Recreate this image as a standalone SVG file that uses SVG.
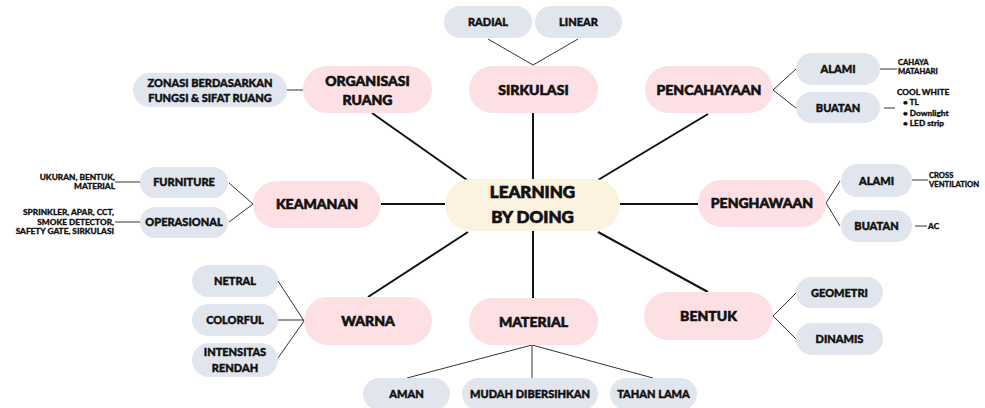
<svg xmlns="http://www.w3.org/2000/svg" width="985" height="408" viewBox="0 0 985 408">
<style>
text{font-family:"Lato","Liberation Sans",sans-serif;font-weight:900;fill:#111;stroke:#111;stroke-width:0.45;text-anchor:middle}
.main{fill:#FCE0E4}
.sub{fill:#E1E6EE}
.core{fill:#FBF2DF}
.t1{font-size:14px;stroke-width:0.6}
.t0{font-size:17px;stroke-width:0.7}
.t2{font-size:11px}
.t3{font-size:8.3px;stroke-width:0.3}
.t4{font-size:7.6px;stroke-width:0.3}
.tl{text-anchor:start}
.tr{text-anchor:end}
.m{stroke:#111;stroke-width:2;fill:none}
.b{stroke:#333;stroke-width:1;fill:none}
</style>
<g id="connectors">
<path class="m" d="M533 112V179M467 180L372 113M598 180L708 114M620 204H698M445 204H381M468 232L368 297M533 231V298M598 232L708 292"/>
<path class="b" d="M488 39L533 65L578 39M287 90H303M796 69L773 90L796 108M880 69H897M884 108H895M840 181L826 203L840 226M912 180H928M915 226H927M229 183L253 204L229 222M115 182H140M115 222H140M278 281L304 321L278 358M278 320H304M407 378L532 345L653 378M532 345V378M796 293L773 316L796 339"/>
</g>
<g id="center"><rect class="core" x="445" y="179" width="175" height="52" rx="26"/><text class="t0" x="532.5" y="198">LEARNING</text><text class="t0" x="532.5" y="223">BY DOING</text></g>
<g id="sirkulasi"><rect class="main" x="469" y="66" width="129" height="47" rx="23.5"/><text class="t1" x="533.5" y="94.5">SIRKULASI</text></g>
<g id="organisasi"><rect class="main" x="303" y="66" width="129" height="47" rx="23.5"/><text class="t1" x="367.5" y="86">ORGANISASI</text><text class="t1" x="367.5" y="105">RUANG</text></g>
<g id="pencahayaan"><rect class="main" x="645" y="66" width="128" height="47" rx="23.5"/><text class="t1" x="709" y="94.5">PENCAHAYAAN</text></g>
<g id="keamanan"><rect class="main" x="253" y="181" width="128" height="47" rx="23.5"/><text class="t1" x="317" y="209">KEAMANAN</text></g>
<g id="penghawaan"><rect class="main" x="698" y="180" width="128" height="47" rx="23.5"/><text class="t1" x="762" y="208">PENGHAWAAN</text></g>
<g id="warna"><rect class="main" x="304" y="297" width="128" height="48" rx="24"/><text class="t1" x="368" y="326">WARNA</text></g>
<g id="material"><rect class="main" x="469" y="298" width="129" height="47" rx="23.5"/><text class="t1" x="533.5" y="326.5">MATERIAL</text></g>
<g id="bentuk"><rect class="main" x="644" y="292" width="129" height="48" rx="24"/><text class="t1" x="708.5" y="321">BENTUK</text></g>
<g id="radial"><rect class="sub" x="444" y="6" width="88" height="32" rx="16"/><text class="t2" x="488" y="26">RADIAL</text></g>
<g id="linear"><rect class="sub" x="535" y="6" width="87" height="32" rx="16"/><text class="t2" x="578.5" y="26">LINEAR</text></g>
<g id="zonasi"><rect class="sub" x="133" y="73" width="154" height="34" rx="17"/><text class="t2" x="210" y="87">ZONASI BERDASARKAN</text><text class="t2" x="210" y="102">FUNGSI &amp; SIFAT RUANG</text></g>
<g id="alami-p"><rect class="sub" x="796" y="53" width="84" height="32" rx="16"/><text class="t2" x="838" y="73">ALAMI</text></g>
<g id="buatan-p"><rect class="sub" x="796" y="92" width="84" height="31" rx="15.5"/><text class="t2" x="838" y="112">BUATAN</text></g>
<g id="cahaya"><text class="t4 tl" x="898" y="65">CAHAYA</text><text class="t4 tl" x="898" y="74">MATAHARI</text></g>
<g id="coolwhite"><text class="t3 tl" x="897" y="95">COOL WHITE</text><text class="t3 tl" x="903" y="105">•  TL</text><text class="t3 tl" x="903" y="115.5">•  Downlight</text><text class="t3 tl" x="903" y="126">•  LED strip</text></g>
<g id="alami-h"><rect class="sub" x="841" y="164" width="71" height="33" rx="16.5"/><text class="t2" x="876.5" y="184.5">ALAMI</text></g>
<g id="buatan-h"><rect class="sub" x="841" y="210" width="71" height="32" rx="16"/><text class="t2" x="876.5" y="230">BUATAN</text></g>
<g id="cross"><text class="t4 tl" x="929" y="178">CROSS</text><text class="t4 tl" x="929" y="187">VENTILATION</text></g>
<g id="ac"><text class="t3 tl" x="928" y="229">AC</text></g>
<g id="furniture"><rect class="sub" x="140" y="167" width="88" height="31" rx="15.5"/><text class="t2" x="184" y="186">FURNITURE</text></g>
<g id="operasional"><rect class="sub" x="140" y="207" width="88" height="31" rx="15.5"/><text class="t2" x="184" y="226">OPERASIONAL</text></g>
<g id="ukuran"><text class="t3 tr" x="115" y="180">UKURAN, BENTUK,</text><text class="t3 tr" x="115" y="189">MATERIAL</text></g>
<g id="sprinkler"><text class="t3 tr" x="114" y="215">SPRINKLER, APAR, CCT,</text><text class="t3 tr" x="114" y="224.5">SMOKE DETECTOR,</text><text class="t3 tr" x="114" y="234">SAFETY GATE, SIRKULASI</text></g>
<g id="netral"><rect class="sub" x="192" y="265" width="86" height="32" rx="16"/><text class="t2" x="235" y="285">NETRAL</text></g>
<g id="colorful"><rect class="sub" x="192" y="304" width="86" height="32" rx="16"/><text class="t2" x="235" y="324">COLORFUL</text></g>
<g id="intensitas"><rect class="sub" x="192" y="343" width="86" height="34" rx="17"/><text class="t2" x="235" y="356">INTENSITAS</text><text class="t2" x="235" y="372">RENDAH</text></g>
<g id="aman"><rect class="sub" x="363" y="378" width="87" height="32" rx="16"/><text class="t2" x="406.5" y="398">AMAN</text></g>
<g id="mudah"><rect class="sub" x="462" y="378" width="136" height="32" rx="16"/><text class="t2" x="530" y="398">MUDAH DIBERSIHKAN</text></g>
<g id="tahan"><rect class="sub" x="610" y="378" width="87" height="32" rx="16"/><text class="t2" x="653.5" y="398">TAHAN LAMA</text></g>
<g id="geometri"><rect class="sub" x="796" y="277" width="87" height="31" rx="15.5"/><text class="t2" x="839.5" y="296.5">GEOMETRI</text></g>
<g id="dinamis"><rect class="sub" x="796" y="323" width="87" height="32" rx="16"/><text class="t2" x="839.5" y="343">DINAMIS</text></g>
</svg>
